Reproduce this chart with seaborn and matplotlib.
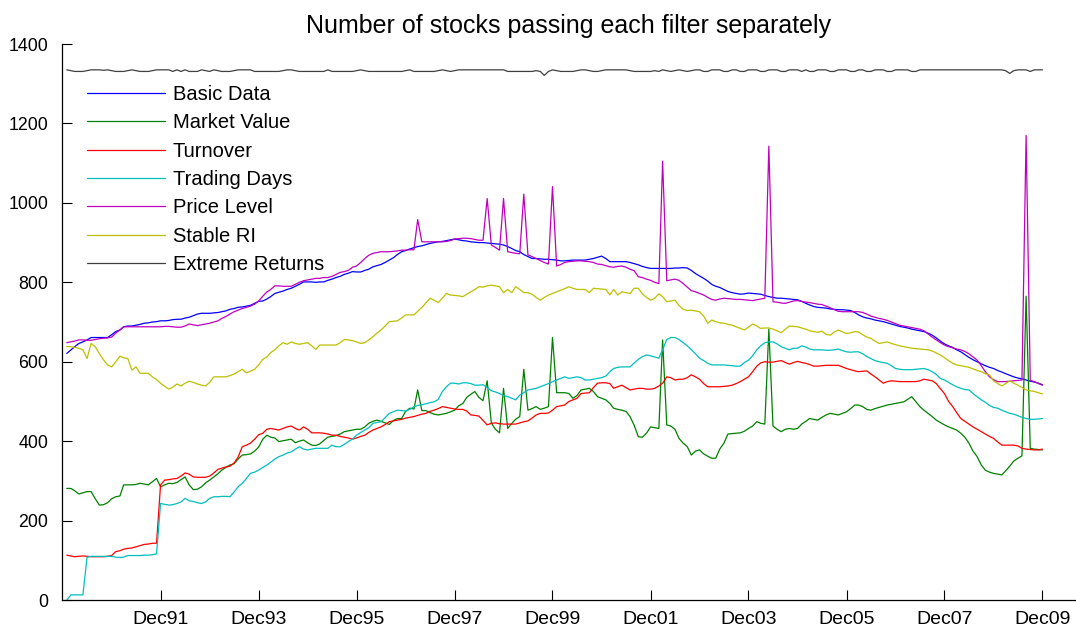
import pandas as pd
import seaborn as sns
import matplotlib.pyplot as plt

# monthly counts, Jan 1990 .. Dec 2009 (12 values per row = one year)
basic_data = [
    621, 630, 638, 646, 650, 655, 661, 661, 661, 661, 661, 668,
    676, 680, 688, 690, 690, 692, 694, 697, 698, 700, 701, 703,
    703, 704, 706, 707, 707, 710, 712, 716, 720, 722, 722, 722,
    723, 724, 726, 728, 732, 734, 737, 738, 740, 742, 747, 752,
    753, 758, 764, 772, 775, 778, 782, 785, 790, 795, 801, 801,
    801, 800, 801, 801, 805, 808, 812, 815, 820, 823, 827, 826,
    826, 830, 833, 839, 842, 845, 850, 856, 862, 870, 877, 880,
    884, 887, 890, 892, 895, 898, 900, 902, 903, 905, 907, 909,
    907, 905, 904, 902, 901, 900, 900, 899, 898, 897, 896, 894,
    890, 885, 880, 877, 870, 865, 860, 860, 859, 858, 858, 857,
    856, 854, 854, 855, 856, 856, 856, 856, 858, 860, 863, 866,
    860, 852, 852, 852, 852, 852, 850, 847, 844, 840, 837, 835,
    835, 835, 835, 835, 835, 836, 836, 837, 836, 830, 822, 816,
    810, 803, 795, 790, 787, 782, 777, 774, 772, 770, 771, 773,
    772, 771, 770, 767, 764, 762, 760, 760, 759, 758, 757, 756,
    752, 747, 743, 739, 737, 736, 735, 733, 732, 731, 731, 730,
    729, 724, 718, 713, 710, 708, 705, 703, 701, 698, 695, 692,
    689, 687, 685, 682, 680, 678, 676, 672, 667, 660, 652, 645,
    640, 636, 630, 625, 618, 611, 605, 600, 595, 590, 586, 583,
    578, 574, 570, 566, 562, 559, 557, 554, 551, 549, 546, 542,
]

market_value = [
    281, 281, 275, 267, 270, 273, 273, 255, 239, 240, 245, 255,
    260, 262, 290, 290, 290, 291, 294, 292, 290, 298, 306, 285,
    290, 294, 293, 296, 303, 310, 290, 278, 279, 285, 295, 302,
    310, 318, 327, 334, 340, 343, 355, 365, 366, 368, 375, 385,
    405, 415, 410, 408, 399, 401, 403, 405, 396, 400, 403, 396,
    390, 389, 393, 402, 410, 412, 414, 418, 424, 426, 428, 430,
    430, 436, 445, 450, 453, 450, 446, 442, 452, 457, 457, 475,
    483, 481, 529, 477, 477, 472, 468, 466, 468, 470, 474, 478,
    489, 495, 510, 518, 525, 510, 502, 552, 446, 430, 421, 533,
    432, 445, 455, 462, 581, 478, 482, 487, 480, 483, 487, 661,
    522, 522, 522, 520, 508, 515, 529, 531, 533, 525, 512, 508,
    504, 495, 483, 480, 478, 475, 462, 440, 411, 410, 420, 436,
    434, 432, 655, 441, 438, 430, 407, 395, 386, 365, 375, 378,
    368, 362, 357, 357, 380, 395, 418, 419, 420, 421, 425, 432,
    438, 449, 445, 443, 682, 438, 430, 424, 430, 432, 430, 432,
    443, 450, 457, 455, 453, 460, 466, 470, 468, 466, 470, 474,
    482, 491, 491, 487, 480, 478, 482, 485, 488, 491, 493, 495,
    497, 499, 505, 512, 500, 487, 478, 470, 462, 453, 447, 441,
    436, 432, 428, 420, 410, 395, 375, 361, 340, 327, 322, 319,
    317, 315, 325, 337, 350, 357, 363, 765, 382, 380, 379, 378,
]

turnover = [
    113, 111, 109, 110, 111, 110, 109, 109, 109, 109, 110, 112,
    122, 124, 128, 130, 131, 134, 137, 140, 141, 143, 143, 290,
    302, 303, 305, 306, 312, 320, 317, 310, 309, 309, 309, 312,
    320, 329, 332, 335, 337, 345, 360, 386, 390, 395, 405, 416,
    420, 430, 432, 430, 428, 432, 436, 438, 432, 428, 436, 430,
    421, 421, 421, 420, 418, 415, 415, 412, 410, 408, 405, 408,
    412, 415, 422, 428, 432, 436, 442, 449, 451, 453, 455, 458,
    460, 462, 465, 468, 470, 475, 478, 482, 487, 485, 483, 481,
    480, 480, 476, 466, 465, 463, 452, 441, 445, 446, 444, 443,
    443, 443, 443, 446, 449, 451, 458, 466, 470, 470, 471, 478,
    487, 489, 491, 500, 504, 508, 520, 521, 522, 535, 546, 547,
    547, 545, 533, 537, 541, 535, 529, 531, 533, 533, 531, 531,
    533, 539, 546, 562, 560, 554, 556, 556, 560, 567, 562, 556,
    545, 537, 537, 537, 537, 538, 539, 541, 545, 550, 556, 562,
    575, 589, 597, 600, 599, 599, 601, 603, 598, 594, 598, 601,
    598, 596, 593, 589, 589, 590, 591, 591, 591, 591, 587, 583,
    580, 577, 575, 576, 577, 569, 562, 554, 546, 550, 552, 551,
    550, 550, 550, 550, 550, 552, 556, 554, 552, 545, 532, 520,
    500, 487, 472, 457, 450, 443, 436, 430, 424, 418, 412, 407,
    398, 390, 390, 390, 390, 388, 382, 380, 379, 378, 378, 380,
]

trading_days = [
    0, 13, 13, 13, 13, 108, 110, 110, 110, 110, 110, 110,
    108, 107, 108, 112, 112, 112, 112, 113, 113, 114, 116, 243,
    241, 239, 240, 243, 247, 256, 250, 248, 245, 243, 247, 256,
    260, 260, 261, 261, 260, 272, 285, 294, 306, 319, 322, 327,
    334, 340, 347, 355, 361, 365, 370, 373, 380, 386, 380, 378,
    380, 382, 382, 382, 382, 390, 386, 386, 392, 399, 405, 415,
    422, 428, 434, 445, 447, 449, 459, 470, 474, 478, 477, 476,
    480, 487, 490, 492, 494, 497, 499, 505, 525, 537, 546, 546,
    544, 547, 547, 545, 541, 541, 542, 535, 527, 524, 520, 515,
    512, 508, 504, 516, 522, 529, 531, 533, 537, 541, 545, 550,
    554, 558, 562, 558, 560, 562, 560, 554, 554, 556, 558, 560,
    564, 575, 583, 586, 587, 587, 587, 597, 606, 613, 617, 615,
    612, 609, 630, 656, 661, 661, 656, 648, 640, 630, 620, 609,
    603, 596, 592, 592, 592, 592, 591, 590, 589, 589, 598, 604,
    615, 630, 640, 648, 650, 650, 645, 638, 634, 630, 634, 634,
    640, 637, 632, 630, 630, 630, 629, 629, 630, 632, 628, 625,
    624, 625, 625, 620, 613, 608, 603, 600, 598, 596, 590, 583,
    581, 580, 580, 580, 581, 582, 583, 580, 575, 568, 558, 554,
    548, 542, 537, 533, 530, 529, 520, 512, 504, 498, 490, 485,
    483, 478, 474, 470, 468, 464, 460, 457, 455, 455, 456, 457,
]

price_level = [
    648, 650, 652, 655, 655, 654, 654, 656, 658, 659, 660, 662,
    672, 680, 688, 688, 688, 688, 688, 688, 688, 688, 688, 688,
    689, 689, 688, 687, 687, 690, 695, 693, 691, 693, 695, 697,
    700, 703, 709, 714, 720, 726, 730, 734, 737, 740, 745, 753,
    765, 776, 782, 791, 791, 790, 790, 790, 795, 800, 804, 806,
    808, 810, 810, 812, 812, 815, 820, 825, 827, 830, 838, 841,
    850, 860, 868, 873, 875, 877, 877, 877, 878, 879, 881, 881,
    882, 882, 958, 902, 902, 902, 902, 902, 902, 903, 905, 909,
    910, 911, 911, 910, 908, 906, 906, 1011, 894, 888, 881, 1011,
    877, 875, 873, 872, 1022, 869, 865, 860, 855, 850, 846, 1041,
    841, 845, 850, 852, 853, 854, 854, 853, 852, 850, 846, 845,
    842, 839, 838, 840, 841, 838, 833, 829, 814, 812, 808, 805,
    800, 797, 1105, 804, 806, 808, 805, 797, 788, 779, 776, 772,
    768, 762, 757, 755, 758, 760, 759, 758, 757, 757, 756, 755,
    754, 756, 758, 760, 1143, 751, 750, 748, 747, 750, 753, 754,
    752, 750, 749, 747, 745, 744, 740, 736, 731, 727, 726, 726,
    726, 726, 726, 724, 720, 715, 712, 709, 707, 704, 700, 696,
    692, 690, 688, 686, 684, 682, 678, 670, 662, 655, 648, 642,
    638, 635, 632, 630, 626, 620, 612, 604, 590, 575, 562, 555,
    550, 550, 550, 551, 552, 553, 554, 1170, 553, 550, 545, 541,
]

stable_ri = [
    638, 638, 636, 634, 630, 608, 646, 638, 620, 605, 592, 587,
    600, 614, 610, 608, 579, 587, 571, 571, 571, 562, 555, 546,
    538, 531, 536, 544, 539, 546, 551, 548, 544, 541, 539, 548,
    562, 562, 562, 562, 565, 569, 575, 581, 572, 576, 581, 592,
    606, 612, 623, 630, 640, 648, 644, 650, 646, 644, 646, 648,
    640, 631, 642, 642, 642, 642, 642, 648, 656, 655, 653, 650,
    646, 648, 655, 663, 672, 680, 690, 701, 702, 703, 710, 718,
    718, 718, 727, 737, 748, 760, 755, 749, 760, 772, 768, 767,
    766, 764, 770, 776, 782, 789, 788, 791, 793, 791, 789, 774,
    782, 774, 789, 782, 774, 774, 770, 762, 755, 762, 768, 772,
    776, 780, 784, 789, 785, 782, 782, 782, 774, 785, 784, 783,
    782, 768, 782, 768, 776, 774, 772, 785, 785, 771, 762, 755,
    760, 771, 764, 751, 753, 755, 742, 732, 729, 730, 728, 726,
    715, 697, 705, 701, 698, 697, 694, 692, 688, 684, 680, 687,
    695, 690, 684, 685, 685, 682, 678, 673, 682, 690, 689, 688,
    685, 682, 678, 676, 674, 677, 669, 667, 675, 680, 675, 671,
    673, 676, 675, 668, 662, 659, 652, 646, 648, 650, 646, 643,
    640, 638, 636, 634, 633, 632, 631, 630, 627, 622, 617, 610,
    603, 596, 592, 590, 588, 586, 582, 578, 575, 570, 567, 552,
    545, 539, 545, 552, 546, 541, 535, 529, 527, 525, 522, 519,
]

extreme_returns = [
    1335, 1333, 1331, 1331, 1331, 1333, 1335, 1335, 1335, 1334, 1335, 1333,
    1331, 1331, 1331, 1333, 1335, 1333, 1331, 1331, 1331, 1333, 1335, 1335,
    1335, 1335, 1331, 1335, 1331, 1335, 1331, 1331, 1331, 1335, 1333, 1331,
    1335, 1333, 1331, 1331, 1331, 1333, 1335, 1335, 1335, 1335, 1331, 1331,
    1331, 1331, 1331, 1331, 1331, 1333, 1335, 1335, 1333, 1331, 1331, 1331,
    1331, 1331, 1331, 1331, 1335, 1331, 1331, 1331, 1331, 1331, 1331, 1333,
    1335, 1333, 1331, 1331, 1331, 1331, 1331, 1331, 1331, 1331, 1331, 1333,
    1335, 1331, 1331, 1331, 1331, 1331, 1331, 1333, 1335, 1333, 1331, 1333,
    1335, 1335, 1335, 1335, 1335, 1335, 1335, 1335, 1335, 1335, 1335, 1335,
    1331, 1331, 1331, 1331, 1331, 1331, 1331, 1333, 1331, 1321, 1331, 1335,
    1333, 1331, 1331, 1331, 1331, 1333, 1335, 1335, 1333, 1331, 1331, 1333,
    1335, 1335, 1335, 1335, 1335, 1335, 1333, 1331, 1331, 1331, 1331, 1331,
    1333, 1331, 1335, 1333, 1331, 1333, 1335, 1333, 1331, 1333, 1335, 1335,
    1331, 1331, 1335, 1335, 1335, 1331, 1331, 1335, 1335, 1331, 1331, 1335,
    1335, 1335, 1331, 1331, 1335, 1335, 1335, 1331, 1331, 1335, 1335, 1335,
    1331, 1335, 1331, 1331, 1335, 1335, 1335, 1331, 1331, 1335, 1335, 1335,
    1331, 1331, 1335, 1335, 1331, 1331, 1335, 1335, 1335, 1331, 1331, 1335,
    1335, 1335, 1335, 1331, 1331, 1335, 1335, 1335, 1335, 1335, 1335, 1335,
    1335, 1335, 1335, 1335, 1335, 1335, 1335, 1335, 1335, 1335, 1335, 1335,
    1335, 1335, 1333, 1326, 1333, 1335, 1335, 1335, 1331, 1335, 1335, 1335,
]

filter_names = ['Basic Data', 'Market Value', 'Turnover', 'Trading Days',
                'Price Level', 'Stable RI', 'Extreme Returns']
line_colors = ['#0000ff', '#008000', '#ff0000', '#00bfbf',
               '#bf00bf', '#bfbf00', '#404040']
tick_dates = ['1991-12-01', '1993-12-01', '1995-12-01', '1997-12-01', '1999-12-01',
              '2001-12-01', '2003-12-01', '2005-12-01', '2007-12-01', '2009-12-01']
tick_labels = ['Dec91', 'Dec93', 'Dec95', 'Dec97', 'Dec99',
               'Dec01', 'Dec03', 'Dec05', 'Dec07', 'Dec09']

dates = pd.date_range('1990-01-01', periods=240, freq='MS')
series = [basic_data, market_value, turnover, trading_days,
          price_level, stable_ri, extreme_returns]

frames = []
for name, values in zip(filter_names, series):
    frames.append(pd.DataFrame({'date': dates, 'stocks': values, 'filter': name}))
df = pd.concat(frames, ignore_index=True)

sns.set_style('white')
plt.rcParams['font.family'] = ['Liberation Sans', 'DejaVu Sans']
plt.rcParams['text.color'] = 'black'

fig = plt.figure(figsize=(10.76, 6.31), dpi=100)
ax = fig.add_axes([0.0576, 0.0491, 0.9424, 0.8811])

sns.lineplot(data=df, x='date', y='stocks', hue='filter', hue_order=filter_names,
             palette=line_colors, linewidth=0.9, ax=ax)

ax.set_xlim(dates[0] - pd.Timedelta(days=36), dates[-1] + pd.Timedelta(days=250))
ax.set_ylim(0, 1400)
ax.set_yticks(range(0, 1401, 200))
ax.set_xticks(pd.to_datetime(tick_dates))
ax.set_xticklabels(tick_labels)
ax.set_xlabel('')
ax.set_ylabel('')

for side in ['top', 'right']:
    ax.spines[side].set_visible(False)
for side in ['left', 'bottom']:
    ax.spines[side].set_color('black')
    ax.spines[side].set_linewidth(0.9)

ax.tick_params(axis='both', direction='in', length=7, width=0.8, colors='black',
               left=True, bottom=True)
ax.tick_params(axis='y', pad=10, labelsize=12.8)
ax.tick_params(axis='x', pad=8, labelsize=14)

handles, labels = ax.get_legend_handles_labels()
ax.legend(handles, labels, loc='upper left', bbox_to_anchor=(0.025, 0.927),
          frameon=False, fontsize=14.5, handlelength=3.85, handletextpad=0.4,
          labelspacing=0.47, borderpad=0, borderaxespad=0)

ax.set_title('Number of stocks passing each filter separately', fontsize=18,
             pad=8, color='black')

fig.savefig('out.png', dpi=100)
plt.close(fig)
